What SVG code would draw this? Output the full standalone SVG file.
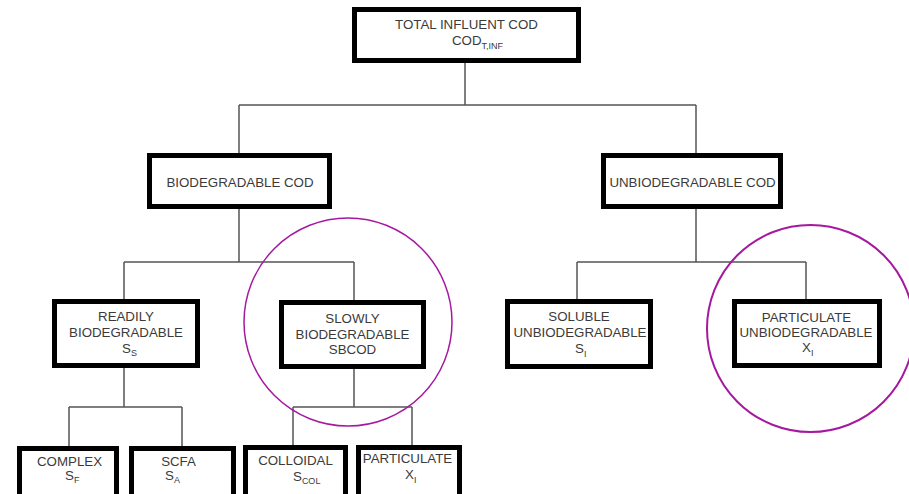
<svg xmlns="http://www.w3.org/2000/svg" width="909" height="494" viewBox="0 0 909 494">
<style>
.box{fill:#fff;stroke:#000;stroke-width:5}
.lbl{font-family:"Liberation Sans",Arial,sans-serif;font-size:13.3px;fill:#3a3a3a;text-anchor:middle}
.st{text-anchor:start}
.sub{font-size:9px}
.conn{fill:none;stroke:#555;stroke-width:1.5}
.ring{fill:none;stroke:#a6189f}
</style>
<rect width="909" height="494" fill="#fff"/>
<g id="connectors" class="conn">
<path d="M465 63V105M239 105H696M239 105V153M696 105V153"/>
<path d="M239 209V262M124 262H354M124 262V299M354 262V300"/>
<path d="M696 209V262M577 262H806M577 262V299M806 262V299"/>
<path d="M124 368V407M69 407H182M69 407V446M182 407V446"/>
<path d="M354 369V407M293 407H412M293 407V445M412 407V445"/>
</g>
<g id="total">
<rect class="box" x="354.5" y="9.5" width="224" height="51"/>
<text class="lbl" x="466.5" y="29">TOTAL INFLUENT COD</text>
<text class="lbl st" x="452" y="45">COD<tspan class="sub" dy="4">T,INF</tspan></text>
</g>
<g id="biodegradable">
<rect class="box" x="149.5" y="155.5" width="180" height="51"/>
<text class="lbl" x="240" y="187">BIODEGRADABLE COD</text>
</g>
<g id="unbiodegradable">
<rect class="box" x="603.5" y="155.5" width="177" height="51"/>
<text class="lbl" x="692.5" y="187">UNBIODEGRADABLE COD</text>
</g>
<g id="readily">
<rect class="box" x="54.5" y="301.5" width="143" height="64"/>
<text class="lbl" x="126" y="321">READILY</text>
<text class="lbl" x="126" y="337">BIODEGRADABLE</text>
<text class="lbl st" x="122" y="353">S<tspan class="sub" dy="3">S</tspan></text>
</g>
<g id="slowly">
<rect class="box" x="281.5" y="302.5" width="142" height="64"/>
<text class="lbl" x="352.5" y="323">SLOWLY</text>
<text class="lbl" x="352.5" y="339">BIODEGRADABLE</text>
<text class="lbl" x="352.5" y="354">SBCOD</text>
</g>
<g id="soluble">
<rect class="box" x="507.5" y="301.5" width="143" height="65"/>
<text class="lbl" x="579" y="321">SOLUBLE</text>
<text class="lbl" x="580" y="337">UNBIODEGRADABLE</text>
<text class="lbl st" x="575" y="353">S<tspan class="sub" dy="4">I</tspan></text>
</g>
<g id="particulate-unbio">
<rect class="box" x="734.5" y="301.5" width="145" height="64"/>
<text class="lbl" x="806.5" y="322">PARTICULATE</text>
<text class="lbl" x="806" y="337">UNBIODEGRADABLE</text>
<text class="lbl st" x="802" y="352">X<tspan class="sub" dy="4">I</tspan></text>
</g>
<g id="complex">
<rect class="box" x="19.5" y="448.5" width="97" height="60"/>
<text class="lbl" x="69.5" y="466">COMPLEX</text>
<text class="lbl st" x="65" y="480">S<tspan class="sub" dy="3">F</tspan></text>
</g>
<g id="scfa">
<rect class="box" x="131.5" y="448.5" width="102" height="60"/>
<text class="lbl" x="178.5" y="466">SCFA</text>
<text class="lbl st" x="165" y="480">S<tspan class="sub" dy="3">A</tspan></text>
</g>
<g id="colloidal">
<rect class="box" x="245.5" y="447.5" width="100" height="60"/>
<text class="lbl" x="295.5" y="465">COLLOIDAL</text>
<text class="lbl st" x="293" y="481">S<tspan class="sub" dy="3">COL</tspan></text>
</g>
<g id="particulate">
<rect class="box" x="358.5" y="447.5" width="101" height="60"/>
<text class="lbl" x="407.5" y="463">PARTICULATE</text>
<text class="lbl st" x="405" y="479">X<tspan class="sub" dy="4">I</tspan></text>
</g>
<circle class="ring" cx="348" cy="322" r="104" stroke-width="1.5"/>
<circle class="ring" cx="810.5" cy="328.5" r="103.5" stroke-width="2"/>
</svg>
